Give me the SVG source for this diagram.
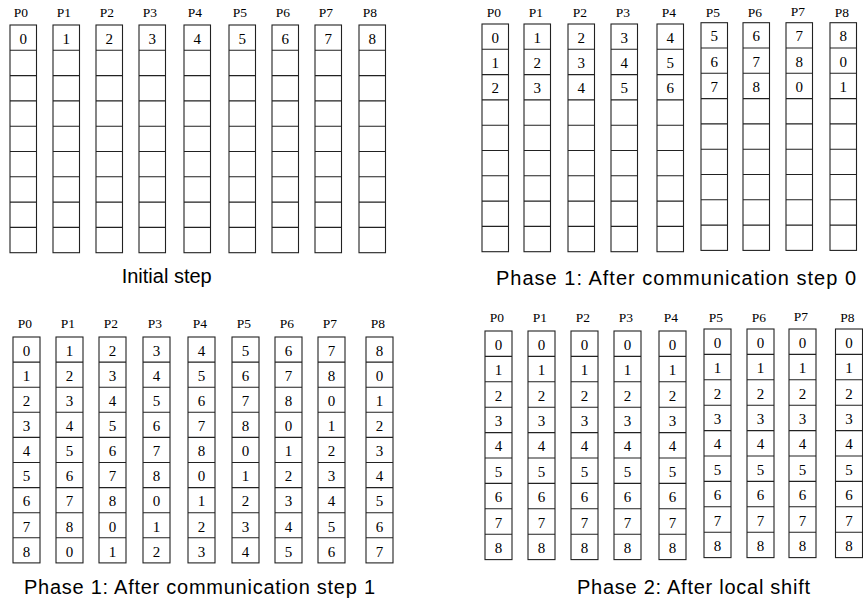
<svg xmlns="http://www.w3.org/2000/svg" xmlns:xlink="http://www.w3.org/1999/xlink" width="863" height="605" viewBox="0 0 863 605">
<style>
.g{fill:#fff;stroke:#222;stroke-width:1.1}
.lbl{font-family:"Liberation Serif","Times New Roman",serif;font-size:13.5px;fill:#000;text-anchor:middle}
.d{font-family:"Liberation Serif","Times New Roman",serif;font-size:15px;fill:#000;text-anchor:middle}
.cap{font-family:"Liberation Sans",Arial,sans-serif;font-size:20px;fill:#000}
</style>
<defs>
<g id="gA" class="g"><rect x="0" y="0" width="26.5" height="227.7"/><path d="M0 25.3H26.5M0 50.6H26.5M0 75.9H26.5M0 101.2H26.5M0 126.5H26.5M0 151.8H26.5M0 177.1H26.5M0 202.4H26.5"/></g>
<g id="gC" class="g"><rect x="0" y="0" width="27" height="225.9"/><path d="M0 25.1H27M0 50.2H27M0 75.3H27M0 100.4H27M0 125.5H27M0 150.6H27M0 175.7H27M0 200.8H27"/></g>
<g id="gD" class="g"><rect x="0" y="0" width="27" height="228.6"/><path d="M0 25.4H27M0 50.8H27M0 76.2H27M0 101.6H27M0 127H27M0 152.4H27M0 177.8H27M0 203.2H27"/></g>
</defs>
<rect width="863" height="605" fill="#fff"/>

<!-- Quadrant 1: Initial step -->
<g id="init">
<g id="init-p0" transform="translate(10,25)"><use href="#gA"/><text class="lbl" x="11" y="-8">P0</text><text class="d" x="13.25" y="18.8">0</text></g>
<g id="init-p1" transform="translate(53,25)"><use href="#gA"/><text class="lbl" x="11" y="-8">P1</text><text class="d" x="13.25" y="18.8">1</text></g>
<g id="init-p2" transform="translate(96,25)"><use href="#gA"/><text class="lbl" x="11" y="-8">P2</text><text class="d" x="13.25" y="18.8">2</text></g>
<g id="init-p3" transform="translate(139,25)"><use href="#gA"/><text class="lbl" x="11" y="-8">P3</text><text class="d" x="13.25" y="18.8">3</text></g>
<g id="init-p4" transform="translate(184,25)"><use href="#gA"/><text class="lbl" x="11" y="-8">P4</text><text class="d" x="13.25" y="18.8">4</text></g>
<g id="init-p5" transform="translate(229,25)"><use href="#gA"/><text class="lbl" x="11" y="-8">P5</text><text class="d" x="13.25" y="18.8">5</text></g>
<g id="init-p6" transform="translate(272,25)"><use href="#gA"/><text class="lbl" x="11" y="-8">P6</text><text class="d" x="13.25" y="18.8">6</text></g>
<g id="init-p7" transform="translate(315,25)"><use href="#gA"/><text class="lbl" x="11" y="-8">P7</text><text class="d" x="13.25" y="18.8">7</text></g>
<g id="init-p8" transform="translate(359,25)"><use href="#gA"/><text class="lbl" x="11" y="-8">P8</text><text class="d" x="13.25" y="18.8">8</text></g>
<text id="cap-init" class="cap" x="121.7" y="283">Initial step</text>
</g>

<!-- Quadrant 2: Phase 1 after communication step 0 -->
<g id="step0">
<g id="s0-p0" transform="translate(482,24)"><use href="#gA"/><text class="lbl" x="12" y="-7">P0</text><text class="d" x="13.25" y="18.8">0</text><text class="d" x="13.25" y="44.1">1</text><text class="d" x="13.25" y="69.4">2</text></g>
<g id="s0-p1" transform="translate(524,24)"><use href="#gA"/><text class="lbl" x="12" y="-7">P1</text><text class="d" x="13.25" y="18.8">1</text><text class="d" x="13.25" y="44.1">2</text><text class="d" x="13.25" y="69.4">3</text></g>
<g id="s0-p2" transform="translate(568,24)"><use href="#gA"/><text class="lbl" x="12" y="-7">P2</text><text class="d" x="13.25" y="18.8">2</text><text class="d" x="13.25" y="44.1">3</text><text class="d" x="13.25" y="69.4">4</text></g>
<g id="s0-p3" transform="translate(611,24)"><use href="#gA"/><text class="lbl" x="12" y="-7">P3</text><text class="d" x="13.25" y="18.8">3</text><text class="d" x="13.25" y="44.1">4</text><text class="d" x="13.25" y="69.4">5</text></g>
<g id="s0-p4" transform="translate(657,24)"><use href="#gA"/><text class="lbl" x="12" y="-7">P4</text><text class="d" x="13.25" y="18.8">4</text><text class="d" x="13.25" y="44.1">5</text><text class="d" x="13.25" y="69.4">6</text></g>
<g id="s0-p5" transform="translate(701,22.7)"><use href="#gA"/><text class="lbl" x="12" y="-5.7">P5</text><text class="d" x="13.25" y="18.8">5</text><text class="d" x="13.25" y="44.1">6</text><text class="d" x="13.25" y="69.4">7</text></g>
<g id="s0-p6" transform="translate(743,22.7)"><use href="#gA"/><text class="lbl" x="12" y="-5.7">P6</text><text class="d" x="13.25" y="18.8">6</text><text class="d" x="13.25" y="44.1">7</text><text class="d" x="13.25" y="69.4">8</text></g>
<g id="s0-p7" transform="translate(786,22.7)"><use href="#gA"/><text class="lbl" x="12" y="-6.7">P7</text><text class="d" x="13.25" y="18.8">7</text><text class="d" x="13.25" y="44.1">8</text><text class="d" x="13.25" y="69.4">0</text></g>
<g id="s0-p8" transform="translate(830,22.7)"><use href="#gA"/><text class="lbl" x="12" y="-5.7">P8</text><text class="d" x="13.25" y="18.8">8</text><text class="d" x="13.25" y="44.1">0</text><text class="d" x="13.25" y="69.4">1</text></g>
<text id="cap-s0" class="cap" x="496" y="285" textLength="360" lengthAdjust="spacing">Phase 1: After communication step 0</text>
</g>

<!-- Quadrant 3: Phase 1 after communication step 1 -->
<g id="step1">
<g id="s1-p0" transform="translate(13,337)"><use href="#gC"/><text class="lbl" x="12" y="-9">P0</text><text class="d" x="13.5" y="18.8">0</text><text class="d" x="13.5" y="43.9">1</text><text class="d" x="13.5" y="69">2</text><text class="d" x="13.5" y="94.1">3</text><text class="d" x="13.5" y="119.2">4</text><text class="d" x="13.5" y="144.3">5</text><text class="d" x="13.5" y="169.4">6</text><text class="d" x="13.5" y="194.5">7</text><text class="d" x="13.5" y="219.6">8</text></g>
<g id="s1-p1" transform="translate(56,337)"><use href="#gC"/><text class="lbl" x="12" y="-9">P1</text><text class="d" x="13.5" y="18.8">1</text><text class="d" x="13.5" y="43.9">2</text><text class="d" x="13.5" y="69">3</text><text class="d" x="13.5" y="94.1">4</text><text class="d" x="13.5" y="119.2">5</text><text class="d" x="13.5" y="144.3">6</text><text class="d" x="13.5" y="169.4">7</text><text class="d" x="13.5" y="194.5">8</text><text class="d" x="13.5" y="219.6">0</text></g>
<g id="s1-p2" transform="translate(99,337)"><use href="#gC"/><text class="lbl" x="12" y="-9">P2</text><text class="d" x="13.5" y="18.8">2</text><text class="d" x="13.5" y="43.9">3</text><text class="d" x="13.5" y="69">4</text><text class="d" x="13.5" y="94.1">5</text><text class="d" x="13.5" y="119.2">6</text><text class="d" x="13.5" y="144.3">7</text><text class="d" x="13.5" y="169.4">8</text><text class="d" x="13.5" y="194.5">0</text><text class="d" x="13.5" y="219.6">1</text></g>
<g id="s1-p3" transform="translate(143,337)"><use href="#gC"/><text class="lbl" x="12" y="-9">P3</text><text class="d" x="13.5" y="18.8">3</text><text class="d" x="13.5" y="43.9">4</text><text class="d" x="13.5" y="69">5</text><text class="d" x="13.5" y="94.1">6</text><text class="d" x="13.5" y="119.2">7</text><text class="d" x="13.5" y="144.3">8</text><text class="d" x="13.5" y="169.4">0</text><text class="d" x="13.5" y="194.5">1</text><text class="d" x="13.5" y="219.6">2</text></g>
<g id="s1-p4" transform="translate(188,337)"><use href="#gC"/><text class="lbl" x="12" y="-9">P4</text><text class="d" x="13.5" y="18.8">4</text><text class="d" x="13.5" y="43.9">5</text><text class="d" x="13.5" y="69">6</text><text class="d" x="13.5" y="94.1">7</text><text class="d" x="13.5" y="119.2">8</text><text class="d" x="13.5" y="144.3">0</text><text class="d" x="13.5" y="169.4">1</text><text class="d" x="13.5" y="194.5">2</text><text class="d" x="13.5" y="219.6">3</text></g>
<g id="s1-p5" transform="translate(232,337)"><use href="#gC"/><text class="lbl" x="12" y="-9">P5</text><text class="d" x="13.5" y="18.8">5</text><text class="d" x="13.5" y="43.9">6</text><text class="d" x="13.5" y="69">7</text><text class="d" x="13.5" y="94.1">8</text><text class="d" x="13.5" y="119.2">0</text><text class="d" x="13.5" y="144.3">1</text><text class="d" x="13.5" y="169.4">2</text><text class="d" x="13.5" y="194.5">3</text><text class="d" x="13.5" y="219.6">4</text></g>
<g id="s1-p6" transform="translate(275,337)"><use href="#gC"/><text class="lbl" x="12" y="-9">P6</text><text class="d" x="13.5" y="18.8">6</text><text class="d" x="13.5" y="43.9">7</text><text class="d" x="13.5" y="69">8</text><text class="d" x="13.5" y="94.1">0</text><text class="d" x="13.5" y="119.2">1</text><text class="d" x="13.5" y="144.3">2</text><text class="d" x="13.5" y="169.4">3</text><text class="d" x="13.5" y="194.5">4</text><text class="d" x="13.5" y="219.6">5</text></g>
<g id="s1-p7" transform="translate(318,337)"><use href="#gC"/><text class="lbl" x="12" y="-9">P7</text><text class="d" x="13.5" y="18.8">7</text><text class="d" x="13.5" y="43.9">8</text><text class="d" x="13.5" y="69">0</text><text class="d" x="13.5" y="94.1">1</text><text class="d" x="13.5" y="119.2">2</text><text class="d" x="13.5" y="144.3">3</text><text class="d" x="13.5" y="169.4">4</text><text class="d" x="13.5" y="194.5">5</text><text class="d" x="13.5" y="219.6">6</text></g>
<g id="s1-p8" transform="translate(366,337)"><use href="#gC"/><text class="lbl" x="12" y="-9">P8</text><text class="d" x="13.5" y="18.8">8</text><text class="d" x="13.5" y="43.9">0</text><text class="d" x="13.5" y="69">1</text><text class="d" x="13.5" y="94.1">2</text><text class="d" x="13.5" y="119.2">3</text><text class="d" x="13.5" y="144.3">4</text><text class="d" x="13.5" y="169.4">5</text><text class="d" x="13.5" y="194.5">6</text><text class="d" x="13.5" y="219.6">7</text></g>
<text id="cap-s1" class="cap" x="24" y="594" textLength="351" lengthAdjust="spacing">Phase 1: After communication step 1</text>
</g>

<!-- Quadrant 4: Phase 2 after local shift -->
<g id="shift">
<g id="sh-p0" transform="translate(485,331)"><use href="#gD"/><text class="lbl" x="12" y="-9">P0</text><text class="d" x="13.5" y="18.8">0</text><text class="d" x="13.5" y="44.2">1</text><text class="d" x="13.5" y="69.6">2</text><text class="d" x="13.5" y="95">3</text><text class="d" x="13.5" y="120.4">4</text><text class="d" x="13.5" y="145.8">5</text><text class="d" x="13.5" y="171.2">6</text><text class="d" x="13.5" y="196.6">7</text><text class="d" x="13.5" y="222">8</text></g>
<g id="sh-p1" transform="translate(528,331)"><use href="#gD"/><text class="lbl" x="12" y="-9">P1</text><text class="d" x="13.5" y="18.8">0</text><text class="d" x="13.5" y="44.2">1</text><text class="d" x="13.5" y="69.6">2</text><text class="d" x="13.5" y="95">3</text><text class="d" x="13.5" y="120.4">4</text><text class="d" x="13.5" y="145.8">5</text><text class="d" x="13.5" y="171.2">6</text><text class="d" x="13.5" y="196.6">7</text><text class="d" x="13.5" y="222">8</text></g>
<g id="sh-p2" transform="translate(571,331)"><use href="#gD"/><text class="lbl" x="12" y="-9">P2</text><text class="d" x="13.5" y="18.8">0</text><text class="d" x="13.5" y="44.2">1</text><text class="d" x="13.5" y="69.6">2</text><text class="d" x="13.5" y="95">3</text><text class="d" x="13.5" y="120.4">4</text><text class="d" x="13.5" y="145.8">5</text><text class="d" x="13.5" y="171.2">6</text><text class="d" x="13.5" y="196.6">7</text><text class="d" x="13.5" y="222">8</text></g>
<g id="sh-p3" transform="translate(614,331)"><use href="#gD"/><text class="lbl" x="12" y="-9">P3</text><text class="d" x="13.5" y="18.8">0</text><text class="d" x="13.5" y="44.2">1</text><text class="d" x="13.5" y="69.6">2</text><text class="d" x="13.5" y="95">3</text><text class="d" x="13.5" y="120.4">4</text><text class="d" x="13.5" y="145.8">5</text><text class="d" x="13.5" y="171.2">6</text><text class="d" x="13.5" y="196.6">7</text><text class="d" x="13.5" y="222">8</text></g>
<g id="sh-p4" transform="translate(659,331)"><use href="#gD"/><text class="lbl" x="12" y="-9">P4</text><text class="d" x="13.5" y="18.8">0</text><text class="d" x="13.5" y="44.2">1</text><text class="d" x="13.5" y="69.6">2</text><text class="d" x="13.5" y="95">3</text><text class="d" x="13.5" y="120.4">4</text><text class="d" x="13.5" y="145.8">5</text><text class="d" x="13.5" y="171.2">6</text><text class="d" x="13.5" y="196.6">7</text><text class="d" x="13.5" y="222">8</text></g>
<g id="sh-p5" transform="translate(704,329)"><use href="#gD"/><text class="lbl" x="12" y="-7">P5</text><text class="d" x="13.5" y="18.8">0</text><text class="d" x="13.5" y="44.2">1</text><text class="d" x="13.5" y="69.6">2</text><text class="d" x="13.5" y="95">3</text><text class="d" x="13.5" y="120.4">4</text><text class="d" x="13.5" y="145.8">5</text><text class="d" x="13.5" y="171.2">6</text><text class="d" x="13.5" y="196.6">7</text><text class="d" x="13.5" y="222">8</text></g>
<g id="sh-p6" transform="translate(747,329)"><use href="#gD"/><text class="lbl" x="12" y="-7">P6</text><text class="d" x="13.5" y="18.8">0</text><text class="d" x="13.5" y="44.2">1</text><text class="d" x="13.5" y="69.6">2</text><text class="d" x="13.5" y="95">3</text><text class="d" x="13.5" y="120.4">4</text><text class="d" x="13.5" y="145.8">5</text><text class="d" x="13.5" y="171.2">6</text><text class="d" x="13.5" y="196.6">7</text><text class="d" x="13.5" y="222">8</text></g>
<g id="sh-p7" transform="translate(789,329)"><use href="#gD"/><text class="lbl" x="12" y="-8">P7</text><text class="d" x="13.5" y="18.8">0</text><text class="d" x="13.5" y="44.2">1</text><text class="d" x="13.5" y="69.6">2</text><text class="d" x="13.5" y="95">3</text><text class="d" x="13.5" y="120.4">4</text><text class="d" x="13.5" y="145.8">5</text><text class="d" x="13.5" y="171.2">6</text><text class="d" x="13.5" y="196.6">7</text><text class="d" x="13.5" y="222">8</text></g>
<g id="sh-p8" transform="translate(835.5,329)"><use href="#gD"/><text class="lbl" x="12" y="-7">P8</text><text class="d" x="13.5" y="18.8">0</text><text class="d" x="13.5" y="44.2">1</text><text class="d" x="13.5" y="69.6">2</text><text class="d" x="13.5" y="95">3</text><text class="d" x="13.5" y="120.4">4</text><text class="d" x="13.5" y="145.8">5</text><text class="d" x="13.5" y="171.2">6</text><text class="d" x="13.5" y="196.6">7</text><text class="d" x="13.5" y="222">8</text></g>
<text id="cap-sh" class="cap" x="577" y="594" textLength="233" lengthAdjust="spacing">Phase 2: After local shift</text>
</g>
</svg>
